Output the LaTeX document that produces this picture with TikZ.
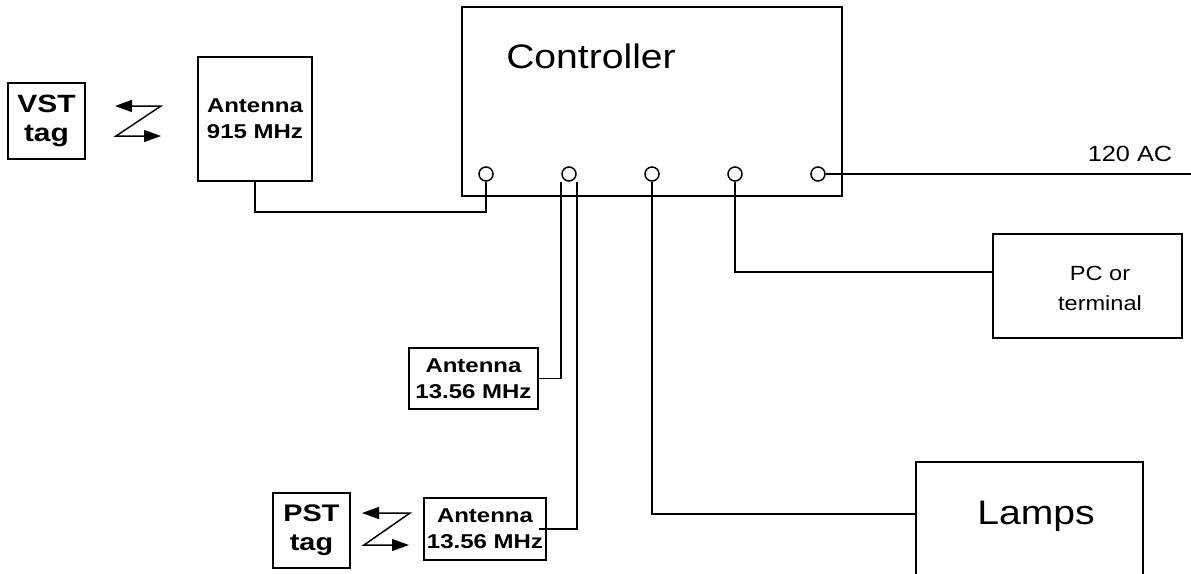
\documentclass[tikz,border=0pt]{standalone}
\usepackage{fontspec}
\setmainfont{Liberation Sans}[FakeStretch=1.15]
\newfontfamily\bsans{Liberation Sans}[FakeStretch=1.2]
\usetikzlibrary{arrows.meta}
\begin{document}
\begin{tikzpicture}[x=1pt,y=-1pt,line width=1.5pt,
  box/.style={draw,rectangle,inner sep=0pt,align=center},
  port/.style={draw,circle,minimum size=14pt,inner sep=0pt,fill=white},
  ant/.style={box,font=\bsans\bfseries\fontsize{20}{26}\selectfont},
  tagbox/.style={box,font=\bsans\bfseries\fontsize{25}{29}\selectfont},
  big/.style={font=\fontsize{34}{40}\selectfont},
  mid/.style={font=\fontsize{20.5}{30}\selectfont},
  zz/.style={{Triangle[length=17pt,width=12pt]}-{Triangle[length=17pt,width=12pt]}}]
\useasboundingbox (0,0) rectangle (1191,573);
% boxes
\node[box,minimum width=380pt,minimum height=189pt] (ctrl) at (652,101.5) {};
\node[big,anchor=center] (ctrltext) at (591,56) {Controller};
\node[ant,minimum width=114pt,minimum height=124pt] (a915) at (255,119) {Antenna\\915 MHz};
\node[tagbox,minimum width=77pt,minimum height=76pt] (vst) at (46.5,121) {VST\\tag};
\node[ant,minimum width=129pt,minimum height=61pt] (a1) at (473.5,378.5) {Antenna\\13.56 MHz};
\node[ant,minimum width=122pt,minimum height=62pt] (a2) at (485,529) {Antenna\\13.56 MHz};
\node[tagbox,font=\bsans\bfseries\fontsize{24}{29}\selectfont,minimum width=77pt,minimum height=75pt] (pst) at (311.5,530.5) {PST\\tag};
\node[box,minimum width=189pt,minimum height=104pt] (pc) at (1087.5,286) {};
\node[mid,align=center] (pctext) at (1100,288) {PC or\\terminal};
\node[box,minimum width=227pt,minimum height=150pt] (lamps) at (1029.5,537) {};
\node[big] (lampstext) at (1036,516) {Lamps};
% ports
\node[port] (c1) at (486,174) {};
\node[port] (c2) at (569,174) {};
\node[port] (c3) at (652,174) {};
\node[port] (c4) at (735,174) {};
\node[port] (c5) at (818,174) {};
% connectors
\draw (c1.south) -- (c1.south |- 0,212) -| (a915.south);
\draw ([xshift=-8pt]c2.south) |- (a1.east);
\coordinate (a2end) at ([xshift=-8pt]a2.east);
\draw ([xshift=8pt]c2.south) |- (a2end);
\draw (c3.south) |- (lamps.west |- 0,514);
\draw (c4.south) |- (pc.west |- 0,272);
\coordinate (acend) at (1191,174);
\draw (c5.east) -- (acend);
\node[font=\fontsize{22}{24}\selectfont] (ac) at (1130,154) {120 AC};
% wireless zigzags
\coordinate (v1) at (115,106); \coordinate (v2) at (161,106);
\coordinate (v3) at (116,136); \coordinate (v4) at (161,136);
\draw[zz] (v1) -- (v2) -- (v3) -- (v4);
\coordinate (p1) at (362,513); \coordinate (p2) at (410,513);
\coordinate (p3) at (364,545); \coordinate (p4) at (409,545);
\draw[zz] (p1) -- (p2) -- (p3) -- (p4);
\end{tikzpicture}
\end{document}
